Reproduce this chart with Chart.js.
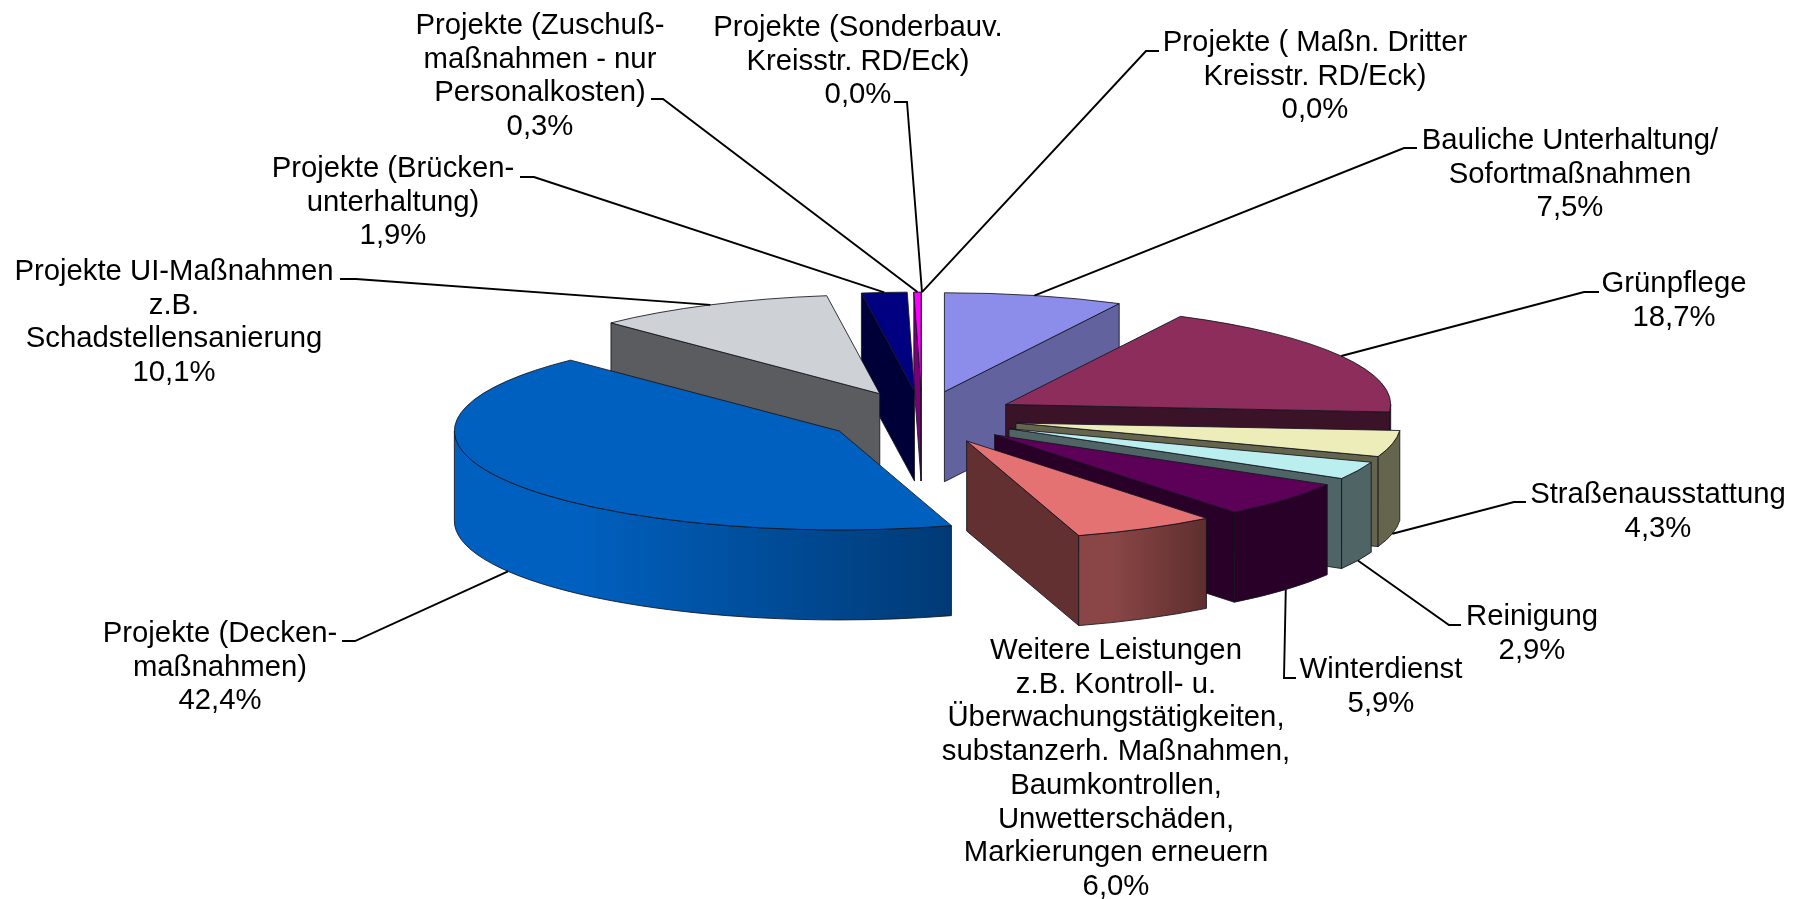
<!DOCTYPE html>
<html>
<head>
<meta charset="utf-8">
<style>
    html, body { margin: 0; padding: 0; background: #fff; }
    canvas { display: block; }
</style>
<script src="https://cdn.jsdelivr.net/npm/chart.js@4/dist/chart.umd.min.js"></script>
</head>
<body>
<canvas id="pie" width="1798" height="899"></canvas>
<script>
// slices, clockwise from 12 o'clock
const categories = [
    ["Bauliche Unterhaltung/", "Sofortmaßnahmen"],
    ["Grünpflege"],
    ["Straßenausstattung"],
    ["Reinigung"],
    ["Winterdienst"],
    ["Weitere Leistungen", "z.B. Kontroll- u.", "Überwachungstätigkeiten,", "substanzerh. Maßnahmen,", "Baumkontrollen,", "Unwetterschäden,", "Markierungen erneuern"],
    ["Projekte (Decken-", "maßnahmen)"],
    ["Projekte UI-Maßnahmen", "z.B.", "Schadstellensanierung"],
    ["Projekte (Brücken-", "unterhaltung)"],
    ["Projekte (Zuschuß-", "maßnahmen - nur", "Personalkosten)"],
    ["Projekte (Sonderbauv.", "Kreisstr. RD/Eck)"],
    ["Projekte ( Maßn. Dritter", "Kreisstr. RD/Eck)"]
];
const shares = [7.5, 18.7, 4.3, 2.9, 5.9, 6.0, 42.4, 10.1, 1.9, 0.3, 0.0, 0.0];

// colours
const topColors = ["#8c8ceb", "#8c2d5c", "#ecedb9", "#bbeeee", "#5c0058", "#e57272", "#0060bf", "#ced1d6", "#000080", "#ff00ff", "#000000", "#000000"];
const cutColors = ["#62629f", "#3a1328", "#65654e", "#4f6565", "#280028", "#623030", "#004386", "#5b5c5f", "#000038", "#7a0078", "#000000", "#000000"];
const rimLeft = ["#62629f", "#3a1328", "#65654e", "#4f6565", "#280028", "#8a4646", "#0060bf", "#5b5c5f", "#000038", "#7a0078", "#000000", "#000000"];
const rimRight = ["#62629f", "#3a1328", "#65654e", "#4f6565", "#280028", "#5f2e2e", "#003a75", "#5b5c5f", "#000038", "#7a0078", "#000000", "#000000"];

// label block: centre x, first baseline
const labelX = [1570, 1674, 1658, 1532, 1381, 1116, 220, 174, 393, 540, 858, 1315];
const labelY = [149, 292, 503, 625, 678, 659, 642, 280, 177, 34, 36, 51];
// leader line: start and elbow next to the label
const leaderStart = [[1417, 148], [1599, 292], [1526, 502], [1461, 625], [1296, 678], null, [342, 641], [340, 279], [520, 177], [651, 99], [894, 102], [1159, 51]];
const leaderElbow = [[1404, 148], [1584, 292], [1514, 502], [1449, 625], [1284, 678], null, [355, 641], [356, 279], [534, 177], [663, 99], [907, 102], [1146, 51]];

const pieRadius = 385;
const tilt = 0.257;       // vertical squash of the disc
const depth = 90;         // wall height
const explode = 96;       // how far slices are pulled out
const explodeTilt = 0.276;
const fontPx = 29.3;

function apex(arc) {
    let mid = (arc.startAngle + arc.endAngle) / 2;
    return {
        x: arc.x + Math.cos(mid) * explode,
        y: arc.y + Math.sin(mid) * explode * explodeTilt
    };
}

function drawSlice(ctx, arc, i) {
    let a = apex(arc);
    let r = arc.outerRadius;
    let ry = r * tilt;
    let start = arc.startAngle;
    let end = arc.endAngle;
    let px = ang => a.x + Math.cos(ang) * r;
    let py = ang => a.y + Math.sin(ang) * ry;

    ctx.save();
    ctx.lineWidth = 1;
    ctx.lineJoin = "round";
    ctx.strokeStyle = "rgba(20,20,30,0.85)";

    // cut faces, only the ones turned to the viewer
    [[start, Math.cos(start) < 0], [end, Math.cos(end) > 0]].forEach(([ang, visible]) => {
        if (!visible) return;
        ctx.beginPath();
        ctx.moveTo(a.x, a.y);
        ctx.lineTo(px(ang), py(ang));
        ctx.lineTo(px(ang), py(ang) + depth);
        ctx.lineTo(a.x, a.y + depth);
        ctx.closePath();
        ctx.fillStyle = cutColors[i];
        ctx.fill();
        ctx.stroke();
    });

    // outer wall, front half of the ellipse only
    let rimFrom = Math.max(start, 0);
    let rimTo = Math.min(end, Math.PI);
    if (rimTo > rimFrom) {
        let x0 = Math.min(px(rimFrom), px(rimTo));
        let x1 = Math.max(px(rimFrom), px(rimTo));
        if (rimTo > Math.PI * 0.9) x0 = a.x - r;
        let grad = ctx.createLinearGradient(x0, 0, x1, 0);
        grad.addColorStop(0, rimLeft[i]);
        grad.addColorStop(0.25, rimLeft[i]);
        grad.addColorStop(1, rimRight[i]);
        ctx.beginPath();
        ctx.ellipse(a.x, a.y, r, ry, 0, rimFrom, rimTo);
        ctx.ellipse(a.x, a.y + depth, r, ry, 0, rimTo, rimFrom, true);
        ctx.closePath();
        ctx.fillStyle = grad;
        ctx.fill();
        ctx.stroke();
    }

    // top face comes from the chart's own arc element
    ctx.save();
    ctx.translate(a.x, a.y);
    ctx.scale(1, tilt);
    ctx.translate(-arc.x, -arc.y);
    arc.draw(ctx);
    ctx.restore();

    ctx.beginPath();
    ctx.moveTo(a.x, a.y);
    ctx.ellipse(a.x, a.y, r, ry, 0, start, end);
    ctx.closePath();
    ctx.stroke();
    ctx.restore();
}

const tiltedPie = {
    id: "tiltedPie",
    beforeDatasetsDraw(chart) {
        let ctx = chart.ctx;
        let arcs = chart.getDatasetMeta(0).data;
        let order = arcs.map((arc, i) => i).filter(i => arcs[i].endAngle > arcs[i].startAngle);
        // back to front
        order.sort((p, q) => {
            let mp = (arcs[p].startAngle + arcs[p].endAngle) / 2;
            let mq = (arcs[q].startAngle + arcs[q].endAngle) / 2;
            return Math.sin(mp) - Math.sin(mq);
        });
        order.forEach(i => drawSlice(ctx, arcs[i], i));
        return false;
    },
    afterDraw(chart) {
        let ctx = chart.ctx;
        let arcs = chart.getDatasetMeta(0).data;
        ctx.save();

        // leader lines end on the middle of the slice edge
        ctx.strokeStyle = "#000";
        ctx.lineWidth = 1.9;
        arcs.forEach((arc, i) => {
            if (!leaderStart[i]) return;
            let a = apex(arc);
            let mid = (arc.startAngle + arc.endAngle) / 2;
            let ex = a.x + Math.cos(mid) * arc.outerRadius;
            let ey = a.y + Math.sin(mid) * arc.outerRadius * tilt;
            if (Math.sin(mid) > 0) ey += depth;
            ctx.beginPath();
            ctx.moveTo(leaderStart[i][0], leaderStart[i][1]);
            ctx.lineTo(leaderElbow[i][0], leaderElbow[i][1]);
            ctx.lineTo(ex, ey);
            ctx.stroke();
        });

        ctx.fillStyle = "#000";
        ctx.font = fontPx + 'px "Liberation Sans"';
        ctx.textAlign = "center";
        ctx.textBaseline = "alphabetic";
        categories.forEach((lines, i) => {
            let all = lines.concat(shares[i].toFixed(1).replace(".", ",") + "%");
            all.forEach((line, n) => ctx.fillText(line, labelX[i], labelY[i] + n * 33.7));
        });
        ctx.restore();
    }
};

new Chart(document.getElementById("pie").getContext("2d"), {
    type: "pie",
    data: {
        labels: categories.map(c => c.join(" ")),
        datasets: [{
            data: shares,
            backgroundColor: topColors,
            borderWidth: 0
        }]
    },
    options: {
        responsive: false,
        animation: false,
        radius: pieRadius,
        layout: { padding: { left: 46, right: 0, top: 0, bottom: 64 } },
        plugins: { legend: { display: false }, tooltip: { enabled: false } }
    },
    plugins: [tiltedPie]
});
</script>
</body>
</html>
